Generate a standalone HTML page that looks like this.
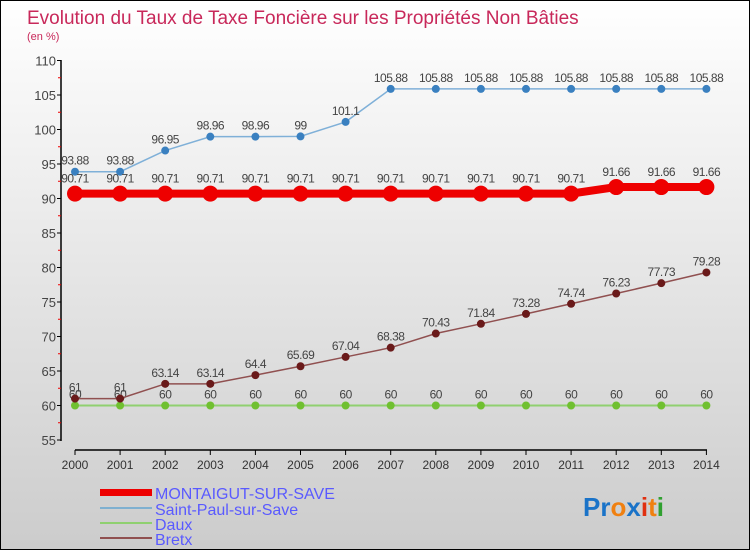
<!DOCTYPE html>
<html><head><meta charset="utf-8"><style>
body{margin:0}
#c{width:748px;height:548px;border:1px solid #000;background:linear-gradient(#fff,#ccc);position:relative;font-family:"Liberation Sans",sans-serif;overflow:hidden}
</style></head><body>
<div id="c">
<svg width="748" height="548" id="s" style="position:absolute;left:0;top:0">
<text x="26" y="23" font-size="19" fill="#c8285a">Evolution du Taux de Taxe Foncière sur les Propriétés Non Bâties</text>
<text x="26" y="39" font-size="11" fill="#c8285a">(en %)</text>
<g id="g"></g>
<g>
<rect x="99" y="488" width="52" height="7" fill="#e00"/>
<text x="154" y="498" font-size="16" fill="#5a5aff">MONTAIGUT-SUR-SAVE</text>
<line x1="99" y1="507" x2="151" y2="507" stroke="#7fb0d0" stroke-width="2"/>
<text x="154" y="514" font-size="16" fill="#5a5aff">Saint-Paul-sur-Save</text>
<line x1="99" y1="522" x2="151" y2="522" stroke="#8fd070" stroke-width="2"/>
<text x="154" y="529" font-size="16" fill="#5a5aff">Daux</text>
<line x1="99" y1="537" x2="151" y2="537" stroke="#905050" stroke-width="2"/>
<text x="154" y="544" font-size="16" fill="#5a5aff">Bretx</text>
</g>
<text x="582" y="515" font-size="26" font-weight="bold"><tspan fill="#1a73c8">Pr</tspan><tspan fill="#f08010">o</tspan><tspan fill="#1a73c8">x</tspan><tspan fill="#e03010">i</tspan><tspan fill="#f08010">t</tspan><tspan fill="#30a030">i</tspan></text>
</svg>
</div>
<script>
const years=[2000,2001,2002,2003,2004,2005,2006,2007,2008,2009,2010,2011,2012,2013,2014];
const montaigut=[90.71,90.71,90.71,90.71,90.71,90.71,90.71,90.71,90.71,90.71,90.71,90.71,91.66,91.66,91.66];
const saintPaul=[93.88,93.88,96.95,98.96,98.96,99,101.1,105.88,105.88,105.88,105.88,105.88,105.88,105.88,105.88];
const daux=[60,60,60,60,60,60,60,60,60,60,60,60,60,60,60];
const bretx=[61,61,63.14,63.14,64.4,65.69,67.04,68.38,70.43,71.84,73.28,74.74,76.23,77.73,79.28];
const yTicks=[55,60,65,70,75,80,85,90,95,100,105,110];
const NS="http://www.w3.org/2000/svg";
const g=document.getElementById('g');
const xs=i=>74+i*45.1;
const ys=v=>439-(v-55)*6.9;
function el(t,a,p){const e=document.createElementNS(NS,t);for(const k in a)e.setAttribute(k,a[k]);(p||g).appendChild(e);return e;}
let ax=el('line',{x1:60,y1:59,x2:60,y2:440,stroke:'#000','stroke-width':1.5});


let xa=el('line',{x1:74,y1:449,x2:706,y2:449,stroke:'#000','stroke-width':1.5});


yTicks.forEach((v,i)=>{
 let t=el('line',{x1:56,y1:ys(v),x2:60,y2:ys(v),stroke:'#000'});
 
 
 let l=el('text',{x:55,y:ys(v)+5,'text-anchor':'end','font-size':13,fill:'#444'});l.textContent=v;
 
 
 if(i<yTicks.length-1){let m=el('line',{x1:57,y1:ys(v+2.5),x2:60,y2:ys(v+2.5),stroke:'#e00'});
 
 }
});
years.forEach((y,i)=>{
 let t=el('line',{x1:xs(i),y1:449,x2:xs(i),y2:454,stroke:'#000'});
 
 
 let l=el('text',{x:xs(i),y:468,'text-anchor':'middle','font-size':12,fill:'#333'});l.textContent=y;
 
 
});
function series(vals,name,color,w,r,dot,lab){
 const p=el('polyline',{points:vals.map((v,i)=>xs(i)+','+ys(v)).join(' '),fill:'none',stroke:color,'stroke-width':w});
 
 
 vals.forEach((v,i)=>{
  const c=el('circle',{cx:xs(i),cy:ys(v),r:r,fill:dot});
  
  
  const t=el('text',{x:xs(i),y:ys(v)-lab,'text-anchor':'middle','font-size':12,fill:'#444','letter-spacing':'-0.5'});t.textContent=v;
  
  
 });
}
series(daux,'daux','#90d070',2,4,'#70c030',7);
series(bretx,'bretx','#905050',1.5,4,'#6a1a1a',7);
series(saintPaul,'saint-paul','#7fb0d8',1.5,4,'#3a80c0',7);
series(montaigut,'montaigut','#e00',8,8,'#e00',11);
</script>
</body></html>
